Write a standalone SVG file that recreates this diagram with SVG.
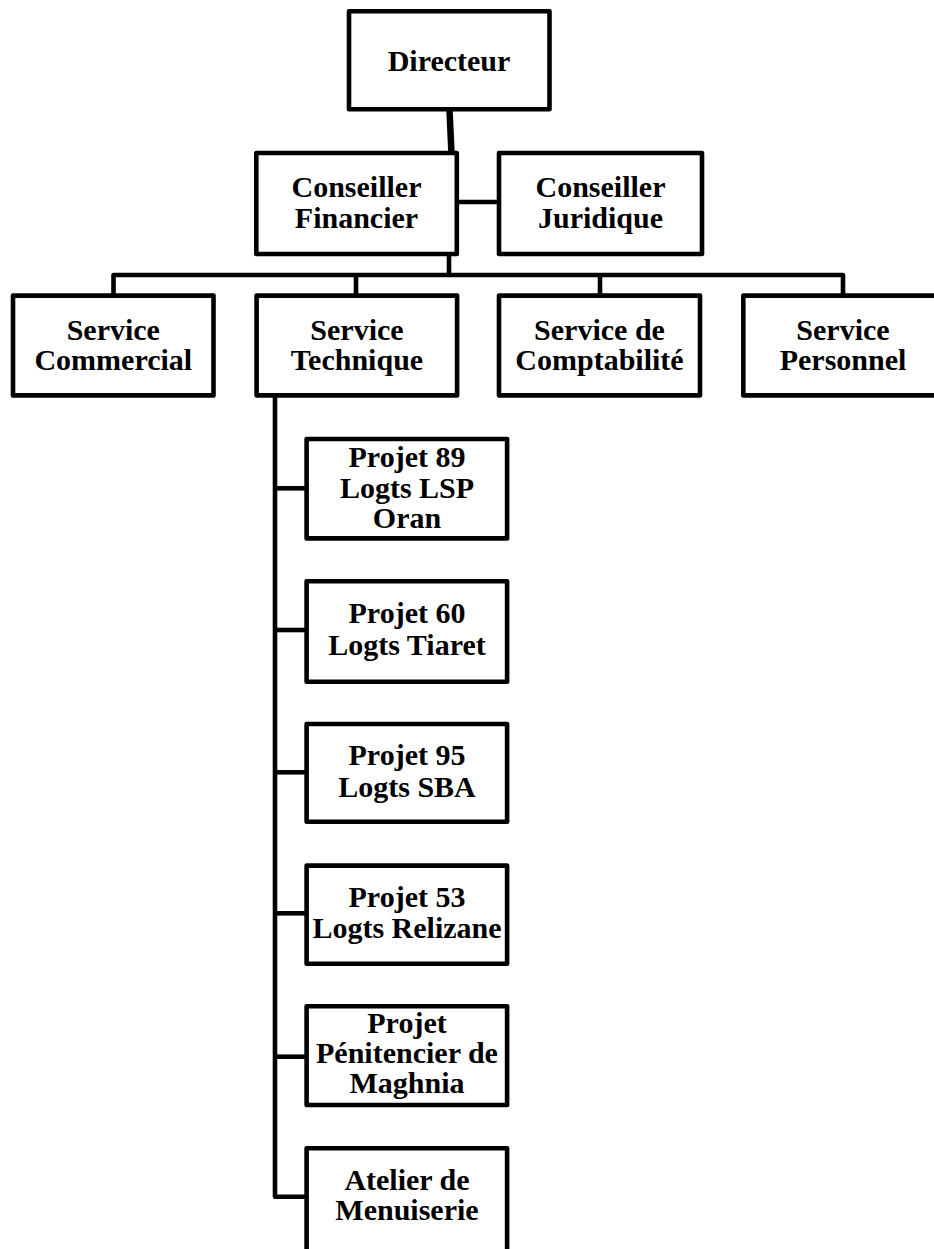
<svg xmlns="http://www.w3.org/2000/svg" width="934" height="1249" viewBox="0 0 934 1249">
<style>
.box{fill:#fff;stroke:#000;stroke-width:4.6;stroke-linejoin:round}
.ln{fill:none;stroke:#000;stroke-width:4.6;stroke-linejoin:round}
text{font-family:"Liberation Serif",serif;font-weight:bold;font-size:30px;text-anchor:middle;fill:#000}
</style>
<rect width="934" height="1249" fill="#fff"/>
<g id="connectors">
<line x1="449.5" y1="110" x2="451.5" y2="154" stroke="#000" stroke-width="6.5"/>
<line class="ln" x1="458" y1="202" x2="498" y2="202"/>
<line class="ln" x1="449" y1="255" x2="449" y2="275"/>
<path class="ln" d="M113.5 295 V275 H843 V295"/>
<line class="ln" x1="356" y1="275" x2="356" y2="295"/>
<line class="ln" x1="600" y1="275" x2="600" y2="295"/>
<path class="ln" d="M275 396 V1196.7 H307"/>
<line class="ln" x1="275" y1="488.3" x2="307" y2="488.3"/>
<line class="ln" x1="275" y1="630" x2="307" y2="630"/>
<line class="ln" x1="275" y1="772.3" x2="307" y2="772.3"/>
<line class="ln" x1="275" y1="913.3" x2="307" y2="913.3"/>
<line class="ln" x1="275" y1="1056.7" x2="307" y2="1056.7"/>
</g>
<g id="directeur"><rect class="box" x="349" y="11.3" width="200.5" height="98"/><text x="449" y="70.5">Directeur</text></g>
<g id="conseiller-financier"><rect class="box" x="256.3" y="153" width="200.5" height="101"/><text x="356.5" y="196.7">Conseiller</text><text x="356.5" y="227.7">Financier</text></g>
<g id="conseiller-juridique"><rect class="box" x="499" y="153" width="203" height="101"/><text x="600.5" y="196.7">Conseiller</text><text x="600.5" y="227.7">Juridique</text></g>
<g id="service-commercial"><rect class="box" x="13" y="295.6" width="200.5" height="99.8"/><text x="113.3" y="340">Service</text><text x="113.3" y="370">Commercial</text></g>
<g id="service-technique"><rect class="box" x="256.6" y="295.6" width="200.5" height="99.8"/><text x="357" y="340">Service</text><text x="357" y="370">Technique</text></g>
<g id="service-comptabilite"><rect class="box" x="499" y="295.6" width="201" height="99.8"/><text x="599.5" y="340">Service de</text><text x="599.5" y="370">Comptabilité</text></g>
<g id="service-personnel"><rect class="box" x="743.3" y="295.6" width="201" height="99.8"/><text x="843" y="340">Service</text><text x="843" y="370">Personnel</text></g>
<g id="projet-89"><rect class="box" x="306.6" y="439" width="200.5" height="99.4"/><text x="407" y="466.7">Projet 89</text><text x="407" y="497.7">Logts LSP</text><text x="407" y="528">Oran</text></g>
<g id="projet-60"><rect class="box" x="306.6" y="581.3" width="200.5" height="100.4"/><text x="407" y="623">Projet 60</text><text x="407" y="655">Logts Tiaret</text></g>
<g id="projet-95"><rect class="box" x="306.6" y="724" width="200.5" height="97.7"/><text x="407" y="765">Projet 95</text><text x="407" y="796.7">Logts SBA</text></g>
<g id="projet-53"><rect class="box" x="306.6" y="865.6" width="200.5" height="98.1"/><text x="407" y="906.7">Projet 53</text><text x="407" y="938.3">Logts Relizane</text></g>
<g id="projet-penitencier"><rect class="box" x="306.6" y="1006.3" width="200.5" height="98.7"/><text x="407" y="1033.3">Projet</text><text x="407" y="1063.3">Pénitencier de</text><text x="407" y="1093.3">Maghnia</text></g>
<g id="atelier-menuiserie"><rect class="box" x="306.6" y="1148.3" width="200.5" height="110"/><text x="407" y="1190">Atelier de</text><text x="407" y="1220">Menuiserie</text></g>
</svg>
